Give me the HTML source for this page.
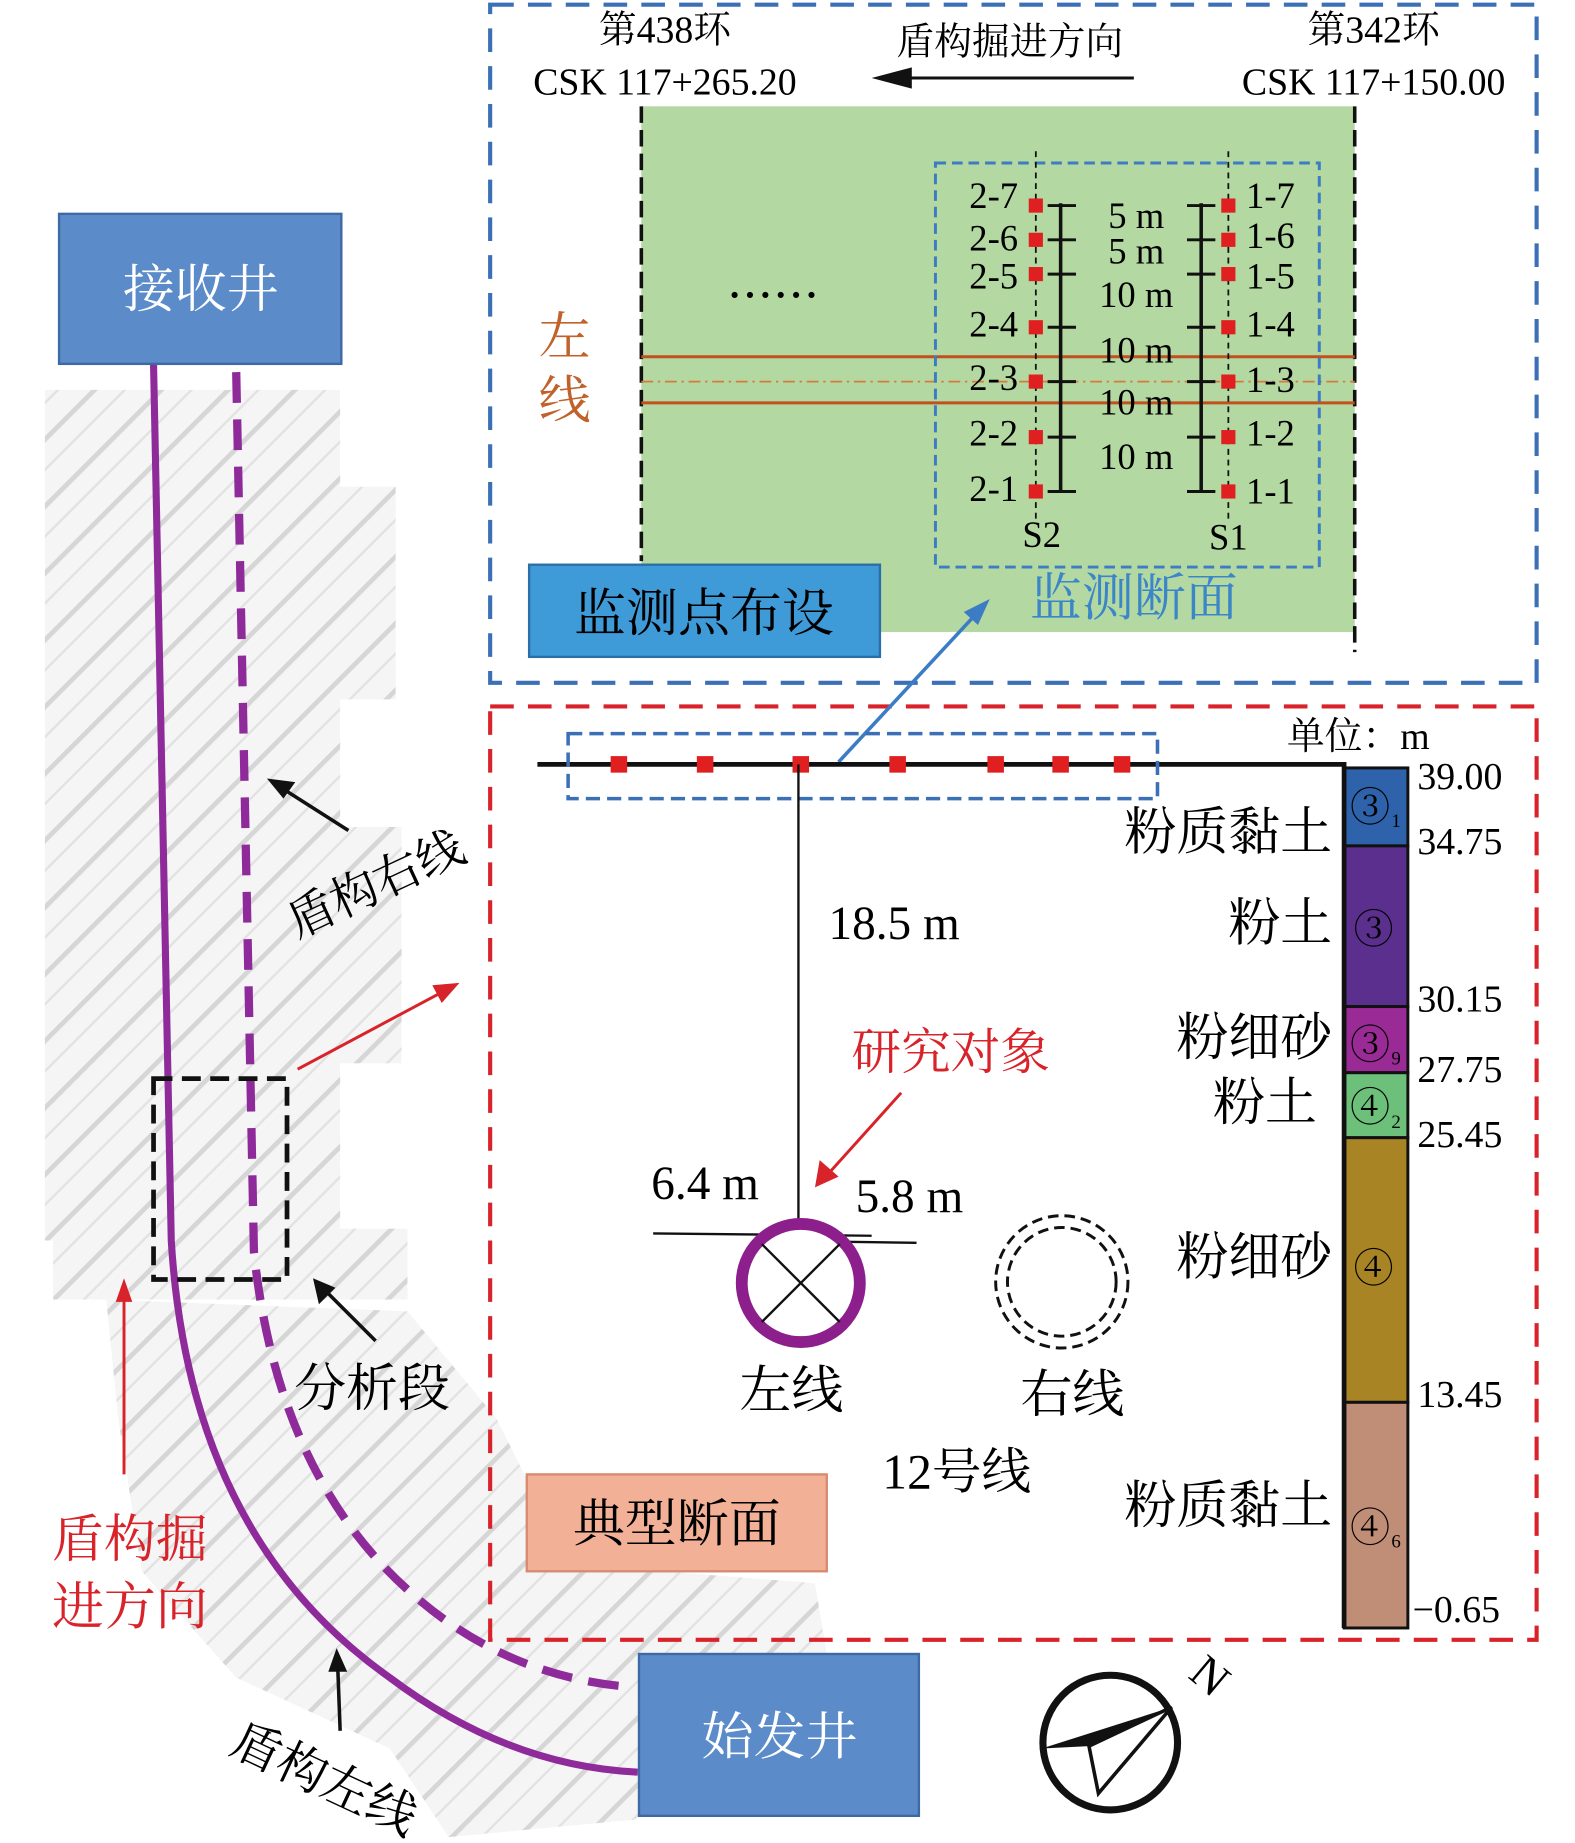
<!DOCTYPE html>
<html><head><meta charset="utf-8"><style>
html,body{margin:0;padding:0;background:#fff}
svg{display:block}
text{font-family:"Liberation Serif","Noto Serif CJK SC",serif}
</style></head><body>
<svg width="1575" height="1843" viewBox="0 0 1333.5 1560" preserveAspectRatio="none" xmlns="http://www.w3.org/2000/svg">
<defs>
<pattern id="hatch" width="40" height="40" patternUnits="userSpaceOnUse" patternTransform="rotate(-45)">
<rect width="40" height="40" fill="#f5f5f5"/>
<line x1="0" y1="10" x2="40" y2="10" stroke="#d6d6d6" stroke-width="4"/>
<line x1="0" y1="28" x2="40" y2="28" stroke="#e2e2e2" stroke-width="2"/>
</pattern>
</defs>

<g fill="url(#hatch)">
<rect x="38" y="330" width="250" height="720"/>
<rect x="250" y="412" width="85" height="180"/>
<rect x="280" y="700" width="60" height="200"/>
<rect x="45" y="1040" width="300" height="60"/>
<polygon points="90,1100 345,1110 420,1200 470,1300 560,1330 690,1340 700,1400 540,1420 540,1540 380,1555 330,1480 200,1420 120,1330 100,1200"/>
</g>

<rect x="415" y="4" width="886" height="574" fill="none" stroke="#3b6fb6" stroke-width="3.5" stroke-dasharray="20,12"/>
<rect x="543" y="90" width="604" height="445" fill="#b3d8a1"/>
<line x1="543" y1="90" x2="543" y2="475" stroke="#111" stroke-width="3" stroke-dasharray="14,6"/>
<line x1="1147" y1="90" x2="1147" y2="552" stroke="#111" stroke-width="3" stroke-dasharray="14,6"/>
<line x1="543" y1="302" x2="1147" y2="302" stroke="#c0501e" stroke-width="2.5"/>
<line x1="543" y1="341" x2="1147" y2="341" stroke="#c0501e" stroke-width="2.5"/>
<line x1="543" y1="323" x2="1147" y2="323" stroke="#d87a3a" stroke-width="1.5" stroke-dasharray="10,4,2,4"/>
<rect x="792" y="138" width="325" height="342" fill="none" stroke="#3b7cc4" stroke-width="2.5" stroke-dasharray="9,5"/>

<text x="563" y="36" font-size="32" text-anchor="middle">第438环</text>
<text x="563" y="80" font-size="32" text-anchor="middle">CSK 117+265.20</text>
<text x="855" y="46" font-size="32" text-anchor="middle">盾构掘进方向</text>
<line x1="765" y1="66" x2="960" y2="66" stroke="#111" stroke-width="2.5"/>
<polygon points="738,66 772,57 772,75" fill="#111"/>
<text x="1163" y="36" font-size="32" text-anchor="middle">第342环</text>
<text x="1163" y="80" font-size="32" text-anchor="middle">CSK 117+150.00</text>

<text x="618" y="252" font-size="32" letter-spacing="5" font-weight="bold">......</text>
<text x="478" y="300" font-size="44" fill="#c0622a" text-anchor="middle">左</text>
<text x="478" y="354" font-size="44" fill="#c0622a" text-anchor="middle">线</text>

<g stroke="#111">
<line x1="877" y1="128" x2="877" y2="440" stroke-width="1.5" stroke-dasharray="5,4"/>
<line x1="1040" y1="128" x2="1040" y2="440" stroke-width="1.5" stroke-dasharray="5,4"/>
<line x1="898" y1="172" x2="898" y2="416" stroke-width="3"/>
<line x1="1017" y1="172" x2="1017" y2="416" stroke-width="3"/>
</g>
<g stroke="#111" stroke-width="2.5">
<path d="M887 174h24M887 203h24M887 232h24M887 277h24M887 323h24M887 370h24M887 416h24"/>
<path d="M1005 174h24M1005 203h24M1005 232h24M1005 277h24M1005 323h24M1005 370h24M1005 416h24"/>
</g>
<g fill="#e02020">
<rect x="871" y="168" width="12" height="12"/><rect x="871" y="197" width="12" height="12"/><rect x="871" y="226" width="12" height="12"/><rect x="871" y="271" width="12" height="12"/><rect x="871" y="317" width="12" height="12"/><rect x="871" y="364" width="12" height="12"/><rect x="871" y="410" width="12" height="12"/>
<rect x="1034" y="168" width="12" height="12"/><rect x="1034" y="197" width="12" height="12"/><rect x="1034" y="226" width="12" height="12"/><rect x="1034" y="271" width="12" height="12"/><rect x="1034" y="317" width="12" height="12"/><rect x="1034" y="364" width="12" height="12"/><rect x="1034" y="410" width="12" height="12"/>
</g>
<g font-size="31" text-anchor="end">
<text x="862" y="176">2-7</text><text x="862" y="212">2-6</text><text x="862" y="244">2-5</text><text x="862" y="285">2-4</text><text x="862" y="330">2-3</text><text x="862" y="377">2-2</text><text x="862" y="424">2-1</text>
</g>
<g font-size="31">
<text x="1055" y="176">1-7</text><text x="1055" y="210">1-6</text><text x="1055" y="244">1-5</text><text x="1055" y="285">1-4</text><text x="1055" y="332">1-3</text><text x="1055" y="377">1-2</text><text x="1055" y="426">1-1</text>
</g>
<g font-size="31" text-anchor="middle">
<text x="962" y="193">5 m</text><text x="962" y="223">5 m</text><text x="962" y="260">10 m</text><text x="962" y="307">10 m</text><text x="962" y="351">10 m</text><text x="962" y="397">10 m</text>
<text x="882" y="463">S2</text><text x="1040" y="465">S1</text>
</g>

<rect x="448" y="478" width="297" height="78" fill="#3f9ad8" stroke="#2a6fa8" stroke-width="2"/>
<text x="596" y="534" font-size="44" text-anchor="middle">监测点布设</text>
<text x="960" y="521" font-size="44" fill="#3a86c8" text-anchor="middle">监测断面</text>

<rect x="415" y="598" width="886" height="790" fill="none" stroke="#d9232a" stroke-width="3.5" stroke-dasharray="20,12"/>

<line x1="710" y1="645" x2="828" y2="518" stroke="#3b7cc4" stroke-width="3"/>
<polygon points="838,507 816,518 828,529" fill="#3b7cc4"/>

<line x1="455" y1="647" x2="1140" y2="647" stroke="#111" stroke-width="4"/>
<rect x="481" y="621" width="499" height="55" fill="none" stroke="#3b6fb6" stroke-width="3" stroke-dasharray="12,6"/>
<g fill="#e02020">
<rect x="517" y="640" width="14" height="14"/><rect x="590" y="640" width="14" height="14"/><rect x="671" y="640" width="14" height="14"/><rect x="753" y="640" width="14" height="14"/><rect x="836" y="640" width="14" height="14"/><rect x="891" y="640" width="14" height="14"/><rect x="943" y="640" width="14" height="14"/>
</g>
<line x1="676" y1="647" x2="676" y2="1032" stroke="#111" stroke-width="2"/>
<text x="757" y="795" font-size="40" text-anchor="middle">18.5 m</text>
<text x="805" y="905" font-size="42" fill="#d9232a" text-anchor="middle">研究对象</text>
<line x1="763" y1="925" x2="700" y2="995" stroke="#d9232a" stroke-width="2.5"/>
<polygon points="690,1005 694,982 710,996" fill="#d9232a"/>
<text x="597" y="1015" font-size="40" text-anchor="middle">6.4 m</text>
<text x="770" y="1026" font-size="40" text-anchor="middle">5.8 m</text>
<line x1="553" y1="1044" x2="738" y2="1046" stroke="#111" stroke-width="2"/>
<line x1="640" y1="1050" x2="776" y2="1052" stroke="#111" stroke-width="2"/>
<circle cx="678" cy="1086" r="50" fill="#fff" stroke="#8c1f8c" stroke-width="10"/>
<line x1="645" y1="1053" x2="711" y2="1119" stroke="#111" stroke-width="2"/>
<line x1="711" y1="1053" x2="645" y2="1119" stroke="#111" stroke-width="2"/>
<circle cx="899" cy="1085" r="56" fill="none" stroke="#111" stroke-width="2.5" stroke-dasharray="9,5"/>
<circle cx="899" cy="1085" r="46" fill="none" stroke="#111" stroke-width="2.5" stroke-dasharray="9,5"/>
<text x="670" y="1192" font-size="44" text-anchor="middle">左线</text>
<text x="908" y="1195" font-size="44" text-anchor="middle">右线</text>
<text x="810" y="1260" font-size="42" text-anchor="middle">12号线</text>
<rect x="446" y="1248" width="254" height="82" fill="#f2b096" stroke="#d98a70" stroke-width="2"/>
<text x="573" y="1305" font-size="44" text-anchor="middle">典型断面</text>

<text x="1150" y="634" font-size="32" text-anchor="middle">单位：m</text>
<g stroke="#111" stroke-width="2.5">
<rect x="1138" y="650" width="54" height="66" fill="#2e62aa"/>
<rect x="1138" y="716" width="54" height="136" fill="#5b2f8e"/>
<rect x="1138" y="852" width="54" height="56" fill="#9a2b96"/>
<rect x="1138" y="908" width="54" height="55" fill="#6dc07a"/>
<rect x="1138" y="963" width="54" height="224" fill="#a88424"/>
<rect x="1138" y="1187" width="54" height="191" fill="#c08d76"/>
</g>
<line x1="1138" y1="648" x2="1138" y2="1378" stroke="#111" stroke-width="4"/>
<g font-size="34" text-anchor="middle">
<text x="1160" y="695">③</text><text x="1163" y="798">③</text><text x="1160" y="896">③</text><text x="1160" y="949">④</text><text x="1163" y="1085">④</text><text x="1160" y="1305">④</text>
</g>
<g font-size="16"><text x="1178" y="700">1</text><text x="1178" y="901">9</text><text x="1178" y="955">2</text><text x="1178" y="1310">6</text></g>
<g font-size="32">
<text x="1200" y="668">39.00</text><text x="1200" y="723">34.75</text><text x="1200" y="856">30.15</text><text x="1200" y="916">27.75</text><text x="1200" y="971">25.45</text><text x="1200" y="1191">13.45</text><text x="1196" y="1373">−0.65</text>
</g>
<g font-size="44" text-anchor="end">
<text x="1128" y="719">粉质黏土</text><text x="1128" y="796">粉土</text><text x="1128" y="893">粉细砂</text><text x="1115" y="948">粉土</text><text x="1128" y="1079">粉细砂</text><text x="1128" y="1289">粉质黏土</text>
</g>

<path d="M130 308 L145 1050 Q160 1300 330 1420 Q430 1495 540 1500" fill="none" stroke="#8e2a9a" stroke-width="6"/>
<path d="M200 315 L215 1060 Q235 1250 350 1350 Q430 1420 535 1428" fill="none" stroke="#8e2a9a" stroke-width="7" stroke-dasharray="26,14"/>
<rect x="130" y="913" width="113" height="170" fill="none" stroke="#111" stroke-width="4" stroke-dasharray="16,8"/>

<rect x="50" y="181" width="239" height="127" fill="#5b8bc8" stroke="#3d6aa5" stroke-width="2"/>
<text x="170" y="260" font-size="44" fill="#fff" text-anchor="middle">接收井</text>
<rect x="541" y="1400" width="237" height="137" fill="#5b8bc8" stroke="#3d6aa5" stroke-width="2"/>
<text x="660" y="1485" font-size="44" fill="#fff" text-anchor="middle">始发井</text>

<line x1="295" y1="703" x2="240" y2="668" stroke="#111" stroke-width="3"/>
<polygon points="226,659 250,662 240,676" fill="#111"/>
<text x="318" y="762" font-size="40" text-anchor="middle" transform="rotate(-25 318 748)">盾构右线</text>
<line x1="252" y1="905" x2="372" y2="841" stroke="#d9232a" stroke-width="2.5"/>
<polygon points="389,832 366,834 374,849" fill="#d9232a"/>
<line x1="318" y1="1135" x2="276" y2="1093" stroke="#111" stroke-width="3"/>
<polygon points="265,1082 270,1104 284,1090" fill="#111"/>
<text x="315" y="1190" font-size="44" text-anchor="middle">分析段</text>
<line x1="105" y1="1248" x2="105" y2="1100" stroke="#d9232a" stroke-width="2.5"/>
<polygon points="105,1082 98,1102 112,1102" fill="#d9232a"/>
<text x="110" y="1318" font-size="44" fill="#d9232a" text-anchor="middle">盾构掘</text>
<text x="110" y="1375" font-size="44" fill="#d9232a" text-anchor="middle">进方向</text>
<line x1="288" y1="1465" x2="286" y2="1412" stroke="#111" stroke-width="3"/>
<polygon points="285,1395 278,1415 294,1415" fill="#111"/>
<text x="275" y="1520" font-size="42" text-anchor="middle" transform="rotate(25 275 1505)">盾构左线</text>

<circle cx="940" cy="1475" r="57" fill="none" stroke="#111" stroke-width="6"/>
<polygon points="882,1480 992,1445 930,1518 922,1478" fill="#111"/>
<polygon points="922,1478 992,1445 930,1518" fill="#fff" stroke="#111" stroke-width="3"/>
<text x="1025" y="1432" font-size="40" text-anchor="middle" transform="rotate(40 1025 1418)">N</text>
</svg>
</body></html>
